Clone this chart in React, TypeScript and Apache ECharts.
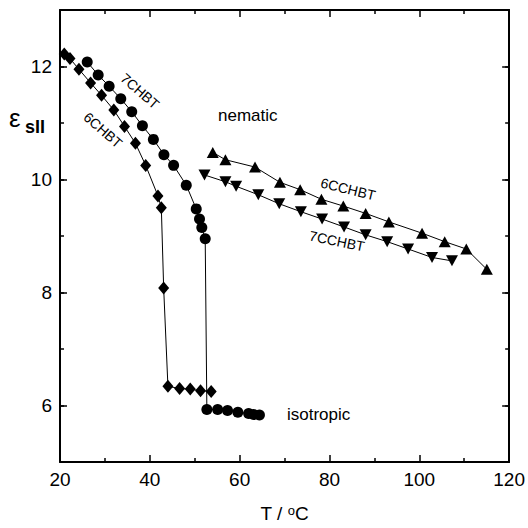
import React, { useEffect, useRef } from "react";
import * as echarts from "echarts";

// 6CHBT (diamonds)
const chbt6T = [20.95, 22.22, 24.22, 26.81, 29.25, 31.98, 34.36, 36.8, 39.08, 41.81, 42.56, 43.08, 44.03, 46.63, 49.0, 51.29, 53.66];
const chbt6Eps = [12.22, 12.14, 11.95, 11.71, 11.49, 11.23, 10.94, 10.64, 10.25, 9.71, 9.5, 8.08, 6.34, 6.3, 6.29, 6.26, 6.25];
// 7CHBT (circles)
const chbt7T = [26.06, 28.5, 30.94, 33.53, 35.97, 38.35, 40.79, 43.14, 45.29, 48.11, 50.33, 51.06, 51.57, 52.33, 52.7, 55.1, 57.3, 59.6, 62.0, 63.1, 64.4];
const chbt7Eps = [12.08, 11.85, 11.65, 11.43, 11.2, 10.95, 10.71, 10.44, 10.25, 9.9, 9.48, 9.3, 9.15, 8.95, 5.93, 5.93, 5.91, 5.88, 5.86, 5.84, 5.83];
// 6CCHBT (up triangles)
const cchbt6T = [54.01, 56.83, 63.42, 68.97, 73.47, 78.2, 83.08, 88.05, 93.22, 100.61, 105.65, 110.46, 115.03];
const cchbt6Eps = [10.48, 10.35, 10.22, 9.95, 9.82, 9.65, 9.53, 9.4, 9.25, 9.05, 8.9, 8.77, 8.41];
// 7CCHBT (down triangles)
const cchbt7T = [52.17, 56.83, 59.21, 64.15, 68.81, 73.63, 78.35, 83.24, 88.05, 92.84, 97.5, 102.83, 107.27];
const cchbt7Eps = [10.08, 9.96, 9.88, 9.73, 9.57, 9.43, 9.3, 9.16, 9.02, 8.9, 8.77, 8.62, 8.56];

const yMajorTicks = [6, 8, 10, 12];

const FONT = '"Liberation Sans", Arial, sans-serif';

const zip = (xs: number[], ys: number[]) => xs.map((x, i) => [x, ys[i]]);

export default function App() {
  const ref = useRef<HTMLDivElement>(null);
  useEffect(() => {
    if (!ref.current) return;
    const chart = echarts.init(ref.current, undefined, { renderer: "svg" });
    const black = "#000";
    const xBase = {
      type: "value",
      min: 20,
      max: 120,
      interval: 20,
      splitLine: { show: false },
      axisLine: { show: true, lineStyle: { color: black, width: 2 } },
      axisTick: { show: true, inside: true, length: 7, lineStyle: { color: black, width: 1.5 } },
      minorTick: { show: true, splitNumber: 2, length: 4, lineStyle: { color: black, width: 1.5 } },
    };
    const yMajor = {
      type: "value",
      min: 5,
      max: 13,
      splitLine: { show: false },
      axisLine: { show: true, lineStyle: { color: black, width: 2 } },
      axisTick: { show: true, inside: true, length: 7, customValues: yMajorTicks, lineStyle: { color: black, width: 1.5 } },
    };
    const yMinor = {
      type: "value",
      min: 5,
      max: 13,
      interval: 1,
      splitLine: { show: false },
      axisLine: { show: false },
      axisLabel: { show: false },
      axisTick: { show: true, inside: true, length: 4, lineStyle: { color: black, width: 1.5 } },
    };
    const lineSeries = (name: string, xs: number[], ys: number[], symbol: string, size: any, rotate = 0) => ({
      name,
      type: "line",
      data: zip(xs, ys),
      symbol,
      symbolSize: size,
      symbolRotate: rotate,
      showSymbol: true,
      xAxisIndex: 0,
      yAxisIndex: 0,
      itemStyle: { color: black, borderWidth: 0 },
      lineStyle: { color: black, width: 1 },
      z: 3,
    });
    chart.setOption({
      animation: false,
      backgroundColor: "#fff",
      grid: { left: 60, right: 17, top: 10, bottom: 65, containLabel: false },
      xAxis: [
        {
          ...xBase,
          position: "bottom",
          axisLabel: { color: black, fontSize: 19, fontFamily: FONT, margin: 8 },
          name: "{t|T / }{s|o}{t|C}",
          nameLocation: "middle",
          nameGap: 42,
          nameTextStyle: {
            rich: {
              t: { fontSize: 19, fontFamily: FONT, color: black },
              s: { fontSize: 13, fontFamily: FONT, color: black, verticalAlign: "top" },
            },
          },
        },
        { ...xBase, position: "top", axisLabel: { show: false } },
      ],
      yAxis: [
        {
          ...yMajor,
          position: "left",
          axisLabel: { color: black, fontSize: 19, fontFamily: FONT, margin: 8, customValues: yMajorTicks },
        },
        { ...yMinor, position: "left" },
        { ...yMajor, position: "right", axisLabel: { show: false } },
        { ...yMinor, position: "right" },
      ],
      series: [
        lineSeries("6CHBT", chbt6T, chbt6Eps, "diamond", [11, 13]),
        lineSeries("7CHBT", chbt7T, chbt7Eps, "circle", 11),
        lineSeries("6CCHBT", cchbt6T, cchbt6Eps, "triangle", [12, 11]),
        lineSeries("7CCHBT", cchbt7T, cchbt7Eps, "triangle", [12, 11], 180),
      ],
      graphic: [
        { type: "text", x: 140, y: 91, rotation: -0.72, style: { text: "7CHBT", fontSize: 14, fontFamily: FONT, fill: black, textAlign: "center", textVerticalAlign: "middle" } },
        { type: "text", x: 103, y: 130, rotation: -0.72, style: { text: "6CHBT", fontSize: 14, fontFamily: FONT, fill: black, textAlign: "center", textVerticalAlign: "middle" } },
        { type: "text", x: 348, y: 189, rotation: -0.24, style: { text: "6CCHBT", fontSize: 14, fontFamily: FONT, fill: black, textAlign: "center", textVerticalAlign: "middle" } },
        { type: "text", x: 337, y: 241, rotation: -0.2, style: { text: "7CCHBT", fontSize: 14, fontFamily: FONT, fill: black, textAlign: "center", textVerticalAlign: "middle" } },
        { type: "text", x: 218, y: 115, style: { text: "nematic", fontSize: 17, fontFamily: FONT, fill: black, textAlign: "left", textVerticalAlign: "middle" } },
        { type: "text", x: 287, y: 414, style: { text: "isotropic", fontSize: 17, fontFamily: FONT, fill: black, textAlign: "left", textVerticalAlign: "middle" } },
        { type: "text", x: 9, y: 118, style: { text: "ε", fontSize: 26, fontFamily: FONT, fill: black, textAlign: "left", textVerticalAlign: "middle" } },
        { type: "text", x: 25, y: 127, style: { text: "sII", fontSize: 18, fontWeight: "bold", fontFamily: FONT, fill: black, textAlign: "left", textVerticalAlign: "middle" } },
      ],
    });
    return () => chart.dispose();
  }, []);
  return (
    <div
      ref={ref}
      style={{ position: "fixed", left: 0, top: 0, width: 528, height: 528, background: "#fff" }}
    />
  );
}
